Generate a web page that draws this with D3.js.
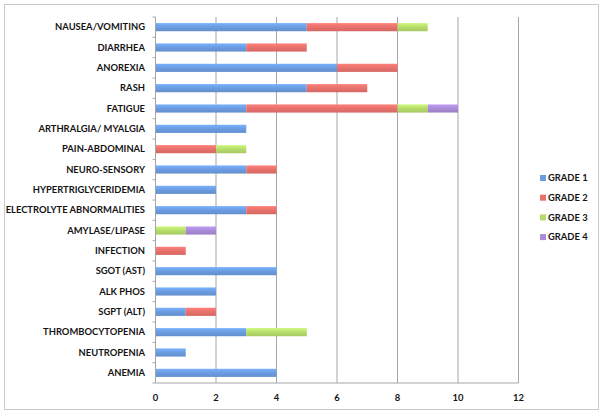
<!DOCTYPE html>
<html>
<head>
<meta charset="utf-8">
<script src="https://cdn.jsdelivr.net/npm/d3@7"></script>
<style>
  body { margin: 0; background: #fff; }
  text { font-family: Lato, "Open Sans", sans-serif; font-weight: bold; fill: #141414; }
</style>
</head>
<body>
<svg id="chart" width="604" height="414"></svg>
<script>
// categories, top to bottom
var categories = ["NAUSEA/VOMITING", "DIARRHEA", "ANOREXIA", "RASH", "FATIGUE",
  "ARTHRALGIA/ MYALGIA", "PAIN-ABDOMINAL", "NEURO-SENSORY", "HYPERTRIGLYCERIDEMIA",
  "ELECTROLYTE ABNORMALITIES", "AMYLASE/LIPASE", "INFECTION", "SGOT (AST)", "ALK PHOS",
  "SGPT (ALT)", "THROMBOCYTOPENIA", "NEUTROPENIA", "ANEMIA"];

var grade1 = [5, 3, 6, 5, 3, 3, 0, 3, 2, 3, 0, 0, 4, 2, 1, 3, 1, 4];
var grade2 = [3, 2, 2, 2, 5, 0, 2, 1, 0, 1, 0, 1, 0, 0, 1, 0, 0, 0];
var grade3 = [1, 0, 0, 0, 1, 0, 1, 0, 0, 0, 1, 0, 0, 0, 0, 2, 0, 0];
var grade4 = [0, 0, 0, 0, 1, 0, 0, 0, 0, 0, 1, 0, 0, 0, 0, 0, 0, 0];

var seriesNames = ["GRADE 1", "GRADE 2", "GRADE 3", "GRADE 4"];
var xTicks = [0, 2, 4, 6, 8, 10, 12];

var colors = ["#6b9ce0", "#e8716c", "#b5dc6b", "#a98bd6"];

var svg = d3.select("#chart");

// outer frame
svg.append("rect")
  .attr("x", 4.5).attr("y", 4.5)
  .attr("width", 594).attr("height", 405)
  .attr("fill", "#fff")
  .attr("stroke", "#c9c9c9");

var margin = { top: 17, left: 155.5, right: 518.5, bottom: 383 };

var x = d3.scaleLinear()
  .domain([0, 12])
  .range([margin.left, margin.right]);

var y = d3.scaleBand()
  .domain(categories)
  .range([margin.top, margin.bottom])
  .paddingInner(0.6)
  .paddingOuter(0.3);

// gradient per series
var defs = svg.append("defs");
colors.forEach(function(c, i) {
  var g = defs.append("linearGradient")
    .attr("id", "grad" + i)
    .attr("x1", 0).attr("y1", 0).attr("x2", 0).attr("y2", 1);
  g.append("stop").attr("offset", "0%").attr("stop-color", d3.color(c).brighter(0.35));
  g.append("stop").attr("offset", "50%").attr("stop-color", c);
  g.append("stop").attr("offset", "100%").attr("stop-color", d3.color(c).darker(0.25));
});

// gridlines
svg.append("g").selectAll("line")
  .data(xTicks.slice(1))
  .enter().append("line")
  .attr("x1", function(d) { return x(d); })
  .attr("x2", function(d) { return x(d); })
  .attr("y1", margin.top)
  .attr("y2", margin.bottom)
  .attr("stroke", "#a6a6a6")
  .attr("stroke-width", 1);

// stack the series
var table = categories.map(function(c, i) {
  return { cat: c, g1: grade1[i], g2: grade2[i], g3: grade3[i], g4: grade4[i] };
});
var stack = d3.stack().keys(["g1", "g2", "g3", "g4"]);
var stacked = stack(table);

var layers = svg.append("g").selectAll("g")
  .data(stacked)
  .enter().append("g")
  .attr("fill", function(d, i) { return "url(#grad" + i + ")"; });

layers.selectAll("rect")
  .data(function(d) { return d.filter(function(p) { return p[1] > p[0]; }); })
  .enter().append("rect")
  .attr("x", function(d) { return x(d[0]); })
  .attr("y", function(d) { return y(d.data.cat); })
  .attr("width", function(d) { return x(d[1]) - x(d[0]); })
  .attr("height", y.bandwidth());

// y axis line with ticks between categories
var yAxisG = svg.append("g");
yAxisG.append("line")
  .attr("x1", margin.left).attr("x2", margin.left)
  .attr("y1", margin.top).attr("y2", margin.bottom)
  .attr("stroke", "#a6a6a6");
var bounds = d3.range(categories.length + 1).map(function(i) { return margin.top + i * (margin.bottom - margin.top) / categories.length; });
yAxisG.selectAll("line.tick")
  .data(bounds)
  .enter().append("line")
  .attr("class", "tick")
  .attr("x1", margin.left - 3).attr("x2", margin.left)
  .attr("y1", function(d) { return d; })
  .attr("y2", function(d) { return d; })
  .attr("stroke", "#a6a6a6");

// x axis line
svg.append("line")
  .attr("x1", margin.left).attr("x2", margin.right)
  .attr("y1", margin.bottom).attr("y2", margin.bottom)
  .attr("stroke", "#a6a6a6");

// category labels
svg.append("g").selectAll("text")
  .data(categories)
  .enter().append("text")
  .attr("x", 145)
  .attr("y", function(d) { return y(d) + y.bandwidth() / 2; })
  .attr("dy", "0.35em")
  .attr("text-anchor", "end")
  .attr("font-size", 9.4)
  .text(function(d) { return d; });

// x tick labels
svg.append("g").selectAll("text")
  .data(xTicks)
  .enter().append("text")
  .attr("x", function(d) { return x(d); })
  .attr("y", 398)
  .attr("dy", "0.35em")
  .attr("text-anchor", "middle")
  .attr("font-size", 9.4)
  .text(function(d) { return d; });

// legend
var legend = svg.append("g").selectAll("g")
  .data(seriesNames)
  .enter().append("g")
  .attr("transform", function(d, i) { return "translate(540," + (178 + i * 19.7) + ")"; });
legend.append("rect")
  .attr("x", 0).attr("y", -3)
  .attr("width", 6).attr("height", 6)
  .attr("fill", function(d, i) { return colors[i]; });
legend.append("text")
  .attr("x", 8)
  .attr("dy", "0.35em")
  .attr("font-size", 9.4)
  .text(function(d) { return d; });
</script>
</body>
</html>
